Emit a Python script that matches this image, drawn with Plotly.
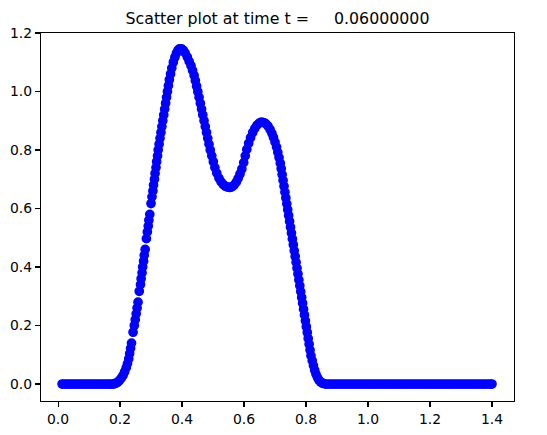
import plotly.graph_objects as go

# ---- data ----
x_left_flat = [0.013, 0.021, 0.029, 0.037, 0.045, 0.053, 0.061, 0.069, 0.077, 0.085,
               0.093, 0.101, 0.109, 0.117, 0.125, 0.133, 0.141, 0.149, 0.157, 0.165,
               0.172, 0.179]
y_left_flat = [0.0] * len(x_left_flat)

x_rise = [0.185, 0.192, 0.198, 0.204, 0.210, 0.215, 0.220, 0.224, 0.228, 0.231,
          0.234, 0.237, 0.242, 0.246, 0.249, 0.252, 0.255, 0.258,
          0.262, 0.266, 0.268, 0.271, 0.273, 0.276, 0.278, 0.281, 0.285,
          0.288, 0.291, 0.293, 0.296, 0.300, 0.303, 0.306, 0.308, 0.311,
          0.313, 0.316, 0.318, 0.321, 0.323, 0.326, 0.329, 0.332, 0.335, 0.338,
          0.341, 0.344, 0.347, 0.350, 0.353, 0.356, 0.359, 0.363, 0.367, 0.372,
          0.377, 0.382, 0.387, 0.392, 0.398, 0.404]
y_rise = [0.002, 0.006, 0.012, 0.020, 0.030, 0.042, 0.056, 0.070, 0.086, 0.104,
          0.122, 0.140, 0.177, 0.200, 0.220, 0.240, 0.260, 0.280,
          0.317, 0.340, 0.360, 0.380, 0.400, 0.420, 0.440, 0.460, 0.497,
          0.520, 0.540, 0.560, 0.580, 0.617, 0.640, 0.660, 0.680, 0.700,
          0.720, 0.740, 0.760, 0.780, 0.800, 0.820, 0.840, 0.860, 0.880, 0.900,
          0.920, 0.940, 0.960, 0.980, 1.000, 1.020, 1.040, 1.060, 1.080, 1.100,
          1.117, 1.131, 1.141, 1.146, 1.146, 1.141]

x_dip = [0.410, 0.417, 0.423, 0.429, 0.434, 0.439, 0.443, 0.447, 0.451, 0.455,
         0.459, 0.463, 0.467, 0.471, 0.475, 0.479, 0.483, 0.487, 0.491, 0.496,
         0.501, 0.506, 0.512, 0.519, 0.526, 0.533, 0.540, 0.547, 0.554, 0.561,
         0.568, 0.575, 0.581, 0.587, 0.593, 0.599, 0.604, 0.609, 0.615, 0.621,
         0.628, 0.635, 0.642, 0.649, 0.656]
y_dip = [1.132, 1.118, 1.103, 1.088, 1.072, 1.055, 1.037, 1.018, 0.999, 0.980,
         0.960, 0.940, 0.920, 0.900, 0.880, 0.860, 0.840, 0.820, 0.800, 0.780,
         0.760, 0.740, 0.721, 0.704, 0.691, 0.682, 0.676, 0.673, 0.672, 0.674,
         0.680, 0.690, 0.703, 0.718, 0.735, 0.757, 0.780, 0.802, 0.823, 0.842,
         0.860, 0.874, 0.885, 0.892, 0.895]

x_fall = [0.663, 0.670, 0.677, 0.684, 0.690, 0.695, 0.700, 0.705, 0.709, 0.713,
          0.717, 0.720, 0.723, 0.726, 0.729, 0.732, 0.735, 0.738, 0.741, 0.744,
          0.747, 0.750, 0.753, 0.756, 0.759, 0.762, 0.765, 0.768, 0.771, 0.774,
          0.777, 0.780, 0.783, 0.786, 0.789, 0.792, 0.795, 0.798, 0.801, 0.804,
          0.807, 0.810, 0.813, 0.816, 0.820, 0.824, 0.828, 0.832, 0.837, 0.842,
          0.848, 0.855]
y_fall = [0.894, 0.890, 0.882, 0.870, 0.857, 0.843, 0.827, 0.810, 0.792, 0.774,
          0.755, 0.736, 0.716, 0.696, 0.676, 0.656, 0.636, 0.616, 0.596, 0.576,
          0.556, 0.536, 0.516, 0.496, 0.476, 0.456, 0.436, 0.416, 0.396, 0.376,
          0.356, 0.336, 0.316, 0.296, 0.276, 0.256, 0.236, 0.216, 0.196, 0.176,
          0.156, 0.136, 0.116, 0.097, 0.080, 0.063, 0.047, 0.034, 0.022, 0.013,
          0.006, 0.002]

x_right_flat = [0.863, 0.872, 0.881, 0.890, 0.899, 0.908, 0.917, 0.926, 0.935, 0.944, 0.953,
                0.962, 0.971, 0.980, 0.989, 0.998, 1.007, 1.016, 1.025, 1.034, 1.043,
                1.052, 1.061, 1.070, 1.079, 1.088, 1.097, 1.106, 1.115, 1.124, 1.133,
                1.142, 1.151, 1.160, 1.169, 1.178, 1.187, 1.196, 1.205, 1.214, 1.223,
                1.232, 1.241, 1.250, 1.259, 1.268, 1.277, 1.286, 1.295, 1.304, 1.313,
                1.322, 1.331, 1.340, 1.349, 1.358, 1.367, 1.376, 1.385, 1.394, 1.400]
y_right_flat = [0.0] * len(x_right_flat)

x_ticks = [0.0, 0.2, 0.4, 0.6, 0.8, 1.0, 1.2, 1.4]
y_ticks = [0.0, 0.2, 0.4, 0.6, 0.8, 1.0, 1.2]
title_text = "Scatter plot at time t =\u00a0\u00a0\u00a0\u00a0\u00a00.06000000"

xs = x_left_flat + x_rise + x_dip + x_fall + x_right_flat
ys = y_left_flat + y_rise + y_dip + y_fall + y_right_flat

fig = go.Figure(go.Scatter(
    x=xs, y=ys, mode="markers",
    marker=dict(color="#0000ff", size=8.3, line=dict(color="#0000ff", width=1.4)),
    showlegend=False, hoverinfo="skip",
))

axis_common = dict(
    showline=True, mirror=True, linecolor="black", linewidth=1.1,
    ticks="outside", ticklen=5, tickwidth=1.1, tickcolor="black",
    showgrid=False, zeroline=False, tickformat=".1f", automargin=False,
    tickfont=dict(family="DejaVu Sans", size=13.9, color="black"),
)

fig.update_layout(
    width=547, height=435,
    margin=dict(l=41, r=33, t=33, b=34, autoexpand=False),
    paper_bgcolor="white", plot_bgcolor="white",
    title=dict(text=title_text, x=0.5, xref="paper", xanchor="center",
               y=1.0, yref="paper", yanchor="bottom", pad=dict(b=9),
               automargin=False,
               font=dict(family="DejaVu Sans", size=15.8, color="black")),
    xaxis=dict(range=[-0.055, 1.471], tickvals=x_ticks, **axis_common),
    yaxis=dict(range=[-0.058, 1.2], tickvals=y_ticks, **axis_common),
)

fig.write_html(
    "out.html",
    config={"displayModeBar": False, "staticPlot": True},
    post_script="document.body.style.margin='0px';document.body.style.overflow='hidden';",
)
